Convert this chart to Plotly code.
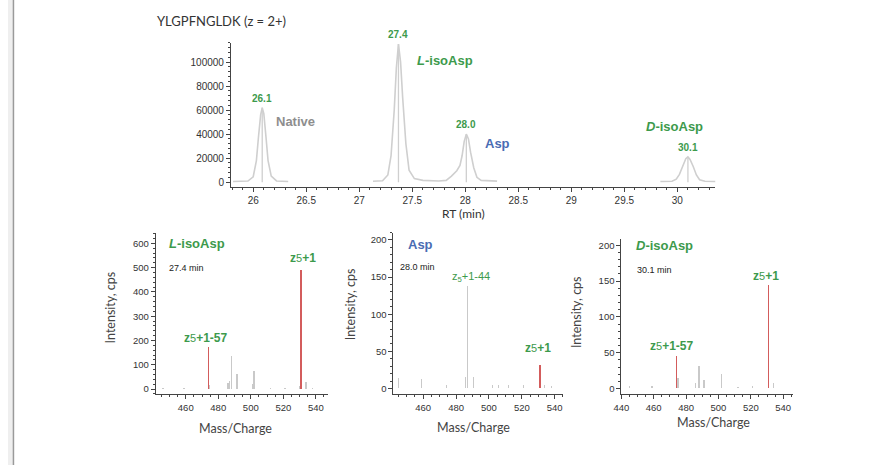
import plotly.graph_objects as go

W, H = 877, 466

# ---------------- data ----------------
# chromatogram segments (RT min, intensity)
native_rt = [25.81, 25.95, 26.00, 26.03, 26.05, 26.07, 26.085, 26.10, 26.12, 26.14, 26.17, 26.22, 26.33]
native_int = [600, 900, 4500, 18000, 38000, 56000, 62000, 57000, 38000, 18000, 5000, 1000, 600]

iso_asp_rt = [27.13, 27.22, 27.27, 27.30, 27.33, 27.35, 27.37, 27.39, 27.41, 27.44, 27.47, 27.52, 27.60,
              27.75, 27.82, 27.87, 27.92, 27.95, 27.97, 27.99, 28.01, 28.03, 28.05, 28.08, 28.11, 28.15, 28.30]
iso_asp_int = [700, 1200, 6000, 22000, 60000, 95000, 115000, 100000, 70000, 32000, 10000, 3000, 1500,
               1000, 1500, 5000, 9500, 14000, 22000, 34000, 40000, 36000, 25000, 12000, 4000, 1500, 900]

d_iso_rt = [29.84, 29.95, 29.99, 30.02, 30.05, 30.08, 30.10, 30.12, 30.15, 30.18, 30.21, 30.26, 30.36]
d_iso_int = [500, 800, 2500, 6500, 13000, 19500, 21000, 19000, 13000, 6000, 2000, 800, 500]

peak_rt = [26.085, 27.37, 28.01, 30.10]
peak_height = [62000, 115000, 40000, 21000]
peak_labels = ["26.1", "27.4", "28.0", "30.1"]

# MS/MS spectra (m/z, intensity cps)
l_gray_mz = [446, 459, 474.8, 486, 487, 488.3, 491.5, 501, 502, 512, 521, 530, 534, 538]
l_gray_int = [4, 6, 15, 25, 34, 138, 64, 20, 73, 3, 4, 12, 30, 4]
l_red_mz = [474, 531]
l_red_int = [172, 492]

a_gray_mz = [445, 459, 474, 485.7, 487.1, 490.8, 502, 506, 512, 521, 534, 538]
a_gray_int = [14, 13, 5, 15, 138, 15, 5, 4, 4, 5, 5, 3]
a_red_mz = [531]
a_red_int = [32]

d_gray_mz = [445, 459, 475, 486, 488, 491, 502, 512, 521, 534]
d_gray_int = [3, 3, 15, 8, 31, 12, 20, 2, 4, 8]
d_red_mz = [474, 531]
d_red_int = [45, 144]

# ---------------- styles ----------------
GREEN = "#3d9a4c"
BLUE = "#4a6cb3"
GREYTXT = "#8e8e8e"
RED = "#d35c5c"
STICK = "#c9c9c9"
CHROM = "#cfcfcf"
AX = "#444444"
LAB = "Liberation Sans, Arial, sans-serif"
GILL = "Lato, Open Sans, sans-serif"


def px_x(p):
    return p / W


def px_y(p):
    return 1 - p / H


fig = go.Figure()

# chromatogram
for xs, ys in [(native_rt, native_int), (iso_asp_rt, iso_asp_int), (d_iso_rt, d_iso_int)]:
    fig.add_trace(go.Scatter(x=xs, y=ys, mode="lines", line=dict(color=CHROM, width=1.6),
                             xaxis="x", yaxis="y", showlegend=False, hoverinfo="skip"))
for rt, h in zip(peak_rt, peak_height):
    fig.add_trace(go.Scatter(x=[rt, rt], y=[0, h], mode="lines", line=dict(color=CHROM, width=1.3),
                             xaxis="x", yaxis="y", showlegend=False, hoverinfo="skip"))

# spectra
spectra = [
    (l_gray_mz, l_gray_int, l_red_mz, l_red_int, "x2", "y2"),
    (a_gray_mz, a_gray_int, a_red_mz, a_red_int, "x3", "y3"),
    (d_gray_mz, d_gray_int, d_red_mz, d_red_int, "x4", "y4"),
]
for gm, gi, rm, ri, xa, ya in spectra:
    fig.add_trace(go.Bar(x=gm, y=gi, width=0.8, marker=dict(color=STICK, line=dict(width=0)),
                         xaxis=xa, yaxis=ya, showlegend=False, hoverinfo="skip"))
    fig.add_trace(go.Bar(x=rm, y=ri, width=1.0, marker=dict(color=RED, line=dict(width=0)),
                         xaxis=xa, yaxis=ya, showlegend=False, hoverinfo="skip"))

# ---------------- axes ----------------


def axis_common(fs):
    return dict(showline=True, linecolor=AX, linewidth=1, ticks="outside", ticklen=4, tickwidth=1,
                tickcolor=AX, showgrid=False, zeroline=False,
                tickfont=dict(family=LAB, size=fs, color="#333"), fixedrange=True)


layout = dict(
    width=W, height=H, margin=dict(l=0, r=0, t=0, b=0),
    paper_bgcolor="white", plot_bgcolor="rgba(0,0,0,0)", bargap=0, barmode="overlay",
    showlegend=False,
)

# top chromatogram
layout["xaxis"] = dict(axis_common(10), domain=[px_x(225), px_x(714)], range=[25.79, 30.36],
                       anchor="y", dtick=0.5, tick0=26,
                       minor=dict(ticks="outside", ticklen=2, dtick=0.1, tickcolor=AX))
layout["yaxis"] = dict(axis_common(10), domain=[px_y(187), px_y(43)], range=[-3700, 116000],
                       anchor="x", dtick=20000, tickformat="d",
                       minor=dict(ticks="outside", ticklen=2, dtick=4000, tickcolor=AX))

# bottom panels: (x domain px, x range, y top px, y range, y dtick, minor)
panels = [
    ((149, 323), [441.5, 547.5], 233, [-20.8, 644.5], 100, 20),
    ((389, 560), [441.9, 545.0], 233, [-7.7, 210], 50, 10),
    ((619, 792), [440.0, 545.9], 240, [-7.9, 208], 50, 10),
]
for i, (xd, xr, ytop, yr, ydt, ymin) in enumerate(panels, start=2):
    layout[f"xaxis{i}"] = dict(axis_common(9.5), domain=[px_x(xd[0]), px_x(xd[1])], range=xr,
                               anchor=f"y{i}", dtick=20, tick0=460,
                               minor=dict(ticks="outside", ticklen=2, dtick=5, tickcolor=AX))
    layout[f"yaxis{i}"] = dict(axis_common(9.5), domain=[px_y(395), px_y(ytop)], range=yr,
                               anchor=f"x{i}", dtick=ydt,
                               minor=dict(ticks="outside", ticklen=2, dtick=ymin, tickcolor=AX))

fig.update_layout(**layout)

# ---------------- annotations ----------------
ann = []


def add(text, x, y, xref="paper", yref="paper", size=12, color=GREEN, family=LAB,
        xanchor="center", yanchor="middle", angle=0):
    ann.append(dict(text=text, x=x, y=y, xref=xref, yref=yref, showarrow=False,
                    font=dict(family=family, size=size, color=color),
                    xanchor=xanchor, yanchor=yanchor, textangle=angle))


add("YLGPFNGLDK (z = 2+)", px_x(148), px_y(21), size=13, color="#333", family=GILL, xanchor="left")

# retention time labels above peaks (y positions in pixels from top)
label_py = [99, 35, 125, 148]
for rt, lab, py in zip(peak_rt, peak_labels, label_py):
    add(f"<b>{lab}</b>", rt, px_y(py), xref="x", yref="paper", size=10)

add("<b>Native</b>", 26.40, 50500, xref="x", yref="y", size=13, color=GREYTXT)
add("<b><i>L</i>-isoAsp</b>", 27.81, 101000, xref="x", yref="y", size=13)
add("<b>Asp</b>", 28.30, 31900, xref="x", yref="y", size=13, color=BLUE)
add("<b><i>D</i>-isoAsp</b>", 29.97, 46100, xref="x", yref="y", size=13)

add("RT (min)", px_x(460), px_y(214), size=12, color="#333", family=GILL)

z5 = "z<span style='font-weight:normal;font-size:11px'>5</span>"

# panel 1
add("<b><i>L</i>-isoAsp</b>", 448.2, 600, xref="x2", yref="y2", size=13, xanchor="left")
add("27.4 min", 448.2, 500, xref="x2", yref="y2", size=9, color="#222", xanchor="left")
add(f"<b>{z5}+1</b>", 532.2, 540, xref="x2", yref="y2", size=12)
add(f"<b>{z5}+1-57</b>", 472, 212, xref="x2", yref="y2", size=12)

# panel 2
add("<b>Asp</b>", 449.7, 194, xref="x3", yref="y3", size=13, color=BLUE, xanchor="left")
add("28.0 min", 444.6, 164, xref="x3", yref="y3", size=9, color="#222", xanchor="left")
add("z<sub>5</sub>+1-44", 489.3, 150, xref="x3", yref="y3", size=11)
add(f"<b>{z5}+1</b>", 530.0, 55, xref="x3", yref="y3", size=12)

# panel 3
add("<b><i>D</i>-isoAsp</b>", 447.9, 200, xref="x4", yref="y4", size=13, xanchor="left")
add("30.1 min", 448.5, 166, xref="x4", yref="y4", size=9, color="#222", xanchor="left")
add(f"<b>{z5}+1</b>", 529.4, 157, xref="x4", yref="y4", size=12)
add(f"<b>{z5}+1-57</b>", 471.2, 59, xref="x4", yref="y4", size=12)

# axis titles of the spectra
for cx, cy in [(103, 308), (345, 305), (574, 313)]:
    add("Intensity, cps", px_x(cx), px_y(cy), size=12.5, color="#444", family=GILL, angle=-90)
for cx, cy in [(230, 429), (470, 428), (712, 423)]:
    add("Mass/Charge", px_x(cx), px_y(cy), size=12.5, color="#444", family=GILL)

fig.update_layout(annotations=ann)

# left border strip
fig.add_shape(type="rect", xref="paper", yref="paper", x0=0, x1=px_x(5), y0=0, y1=1,
              fillcolor="#efefef", line=dict(width=0), layer="below")
fig.add_shape(type="line", xref="paper", yref="paper", x0=px_x(5.5), x1=px_x(5.5), y0=0, y1=1,
              line=dict(color="#9a9a9a", width=1.5))

fig.write_html("out.html", config={"displayModeBar": False, "staticPlot": True},
               post_script="document.body.style.margin='0';document.body.style.overflow='hidden';")
